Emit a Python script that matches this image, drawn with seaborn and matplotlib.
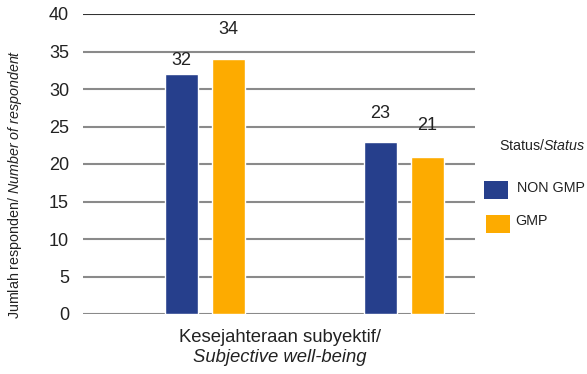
import matplotlib
matplotlib.use("Agg")
import matplotlib.pyplot as plt
import seaborn as sns
import pandas as pd
from matplotlib.patches import Rectangle

# Data
groups = ["Kelompok 1", "Kelompok 2"]
status = ["NON GMP", "GMP"]
values_non_gmp = [32, 23]
values_gmp = [34, 21]
yticks = [0, 5, 10, 15, 20, 25, 30, 35, 40]

colors = {"NON GMP": "#263F8C", "GMP": "#FDAB00"}
text_color = "#222222"

df = pd.DataFrame({
    "group": groups * 2,
    "status": ["NON GMP"] * 2 + ["GMP"] * 2,
    "count": values_non_gmp + values_gmp,
})

sns.set_theme(style="white")
plt.rcParams["font.family"] = ["Liberation Sans", "DejaVu Sans"]
plt.rcParams["mathtext.fontset"] = "custom"
plt.rcParams["mathtext.rm"] = "Liberation Sans"
plt.rcParams["mathtext.it"] = "Liberation Sans:italic"

W, H = 587, 374
fig = plt.figure(figsize=(W / 100, H / 100), dpi=100)
ax = fig.add_axes([83 / W, 1 - 314 / H, 392 / W, 300 / H])

sns.barplot(data=df, x="group", y="count", hue="status", order=groups,
            hue_order=status, palette=colors, width=0.47, gap=0.3,
            saturation=1, legend=False, ax=ax)

ax.set_ylim(0, 40)
ax.set_xlim(-0.613, 1.357)
ax.set_yticks(yticks)
ax.set_yticklabels([str(t) for t in yticks], fontsize=13, color=text_color)
ax.tick_params(axis="y", length=0, pad=10)
ax.set_xticks([])
ax.set_xlabel("")
ax.set_ylabel("")
for s in ax.spines.values():
    s.set_visible(False)

# horizontal gridlines
for t in yticks:
    ax.axhline(t, color="#333333" if t == 40 else "#8a8a8a",
               lw=1.5, zorder=0)

# value labels above bars (offsets in points, per hue container)
offsets = {0: [10, 20], 1: [21, 22]}
for ci, cont in enumerate(ax.containers):
    for bi, bar in enumerate(cont):
        h = bar.get_height()
        ax.annotate(f"{h:.0f}", (bar.get_x() + bar.get_width() / 2, h),
                    xytext=(0, offsets[ci][bi]), textcoords="offset points",
                    ha="center", va="center", fontsize=13, color=text_color)

# axis titles
fig.text(15 / W, 1 - 184 / H,
         r"Jumlah responden/ $\it{Number\ of\ respondent}$",
         rotation=90, ha="center", va="center", fontsize=10.3,
         color=text_color)
fig.text(280 / W, 1 - 337 / H, "Kesejahteraan subyektif/", ha="center",
         va="center", fontsize=13.3, color=text_color)
fig.text(280 / W, 1 - 357 / H, "Subjective well-being", ha="center",
         va="center", fontsize=13.3, style="italic", color=text_color)

# legend
fig.text(585 / W, 1 - 145 / H, r"Status/$\it{Status}$", ha="right",
         va="center", fontsize=10.3, color=text_color)
legend_rows = [(484, 181, 517, 188), (486, 215, 515, 221)]
for s, (px, py, tx, ty) in zip(status, legend_rows):
    fig.add_artist(Rectangle((px / W, 1 - (py + 18) / H), 24 / W, 18 / H,
                             transform=fig.transFigure,
                             facecolor=colors[s], edgecolor="none"))
    fig.text(tx / W, 1 - ty / H, s, ha="left", va="center", fontsize=10.3,
             color=text_color)

fig.savefig("out.png", dpi=100)
